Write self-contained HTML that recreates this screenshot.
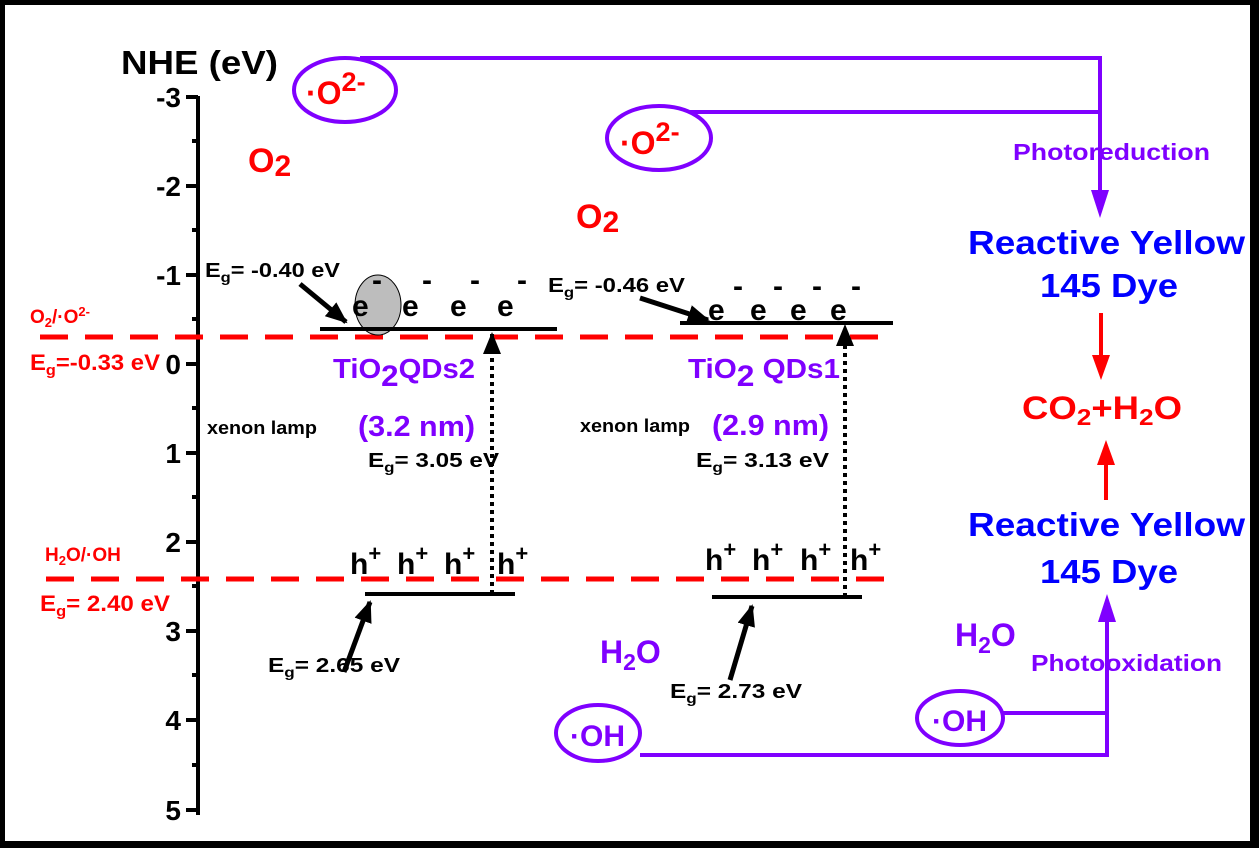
<!DOCTYPE html>
<html><head><meta charset="utf-8"><style>
html,body{margin:0;padding:0;background:#fff}
svg{display:block}
text{font-family:"Liberation Sans",Arial,sans-serif;font-weight:bold}
.p{fill:#7f00ff}.r{fill:#ff0000}.b{fill:#0000ff}.k{fill:#000}
</style></head><body>
<svg width="1259" height="848" viewBox="0 0 1259 848" xmlns="http://www.w3.org/2000/svg">
<defs>
<marker id="akb" markerWidth="22" markerHeight="18" refX="20" refY="9" orient="auto" markerUnits="userSpaceOnUse"><path d="M0,0 L22,9 L0,18z" fill="#000"/></marker>
</defs>
<rect x="2.5" y="2.5" width="1250" height="841" fill="#fff" stroke="#000" stroke-width="5"/>
<rect x="1250" y="0" width="9" height="848" fill="#000"/>
<rect x="0" y="842" width="1259" height="6" fill="#000"/>
<line x1="198" y1="96" x2="198" y2="815" stroke="#000" stroke-width="4"/>
<g stroke="#000" stroke-width="4">
<line x1="186" y1="97" x2="198" y2="97"/><line x1="186" y1="186" x2="198" y2="186"/><line x1="186" y1="275" x2="198" y2="275"/><line x1="186" y1="364" x2="198" y2="364"/><line x1="186" y1="453" x2="198" y2="453"/><line x1="186" y1="542" x2="198" y2="542"/><line x1="186" y1="631" x2="198" y2="631"/><line x1="186" y1="720" x2="198" y2="720"/><line x1="186" y1="810" x2="198" y2="810"/>
<line x1="192" y1="141" x2="198" y2="141"/><line x1="192" y1="230" x2="198" y2="230"/><line x1="192" y1="319" x2="198" y2="319"/><line x1="192" y1="408" x2="198" y2="408"/><line x1="192" y1="497" x2="198" y2="497"/><line x1="192" y1="586" x2="198" y2="586"/><line x1="192" y1="675" x2="198" y2="675"/><line x1="192" y1="765" x2="198" y2="765"/>
</g>
<g class="k" font-size="28" text-anchor="end">
<text x="181" y="107">-3</text><text x="181" y="196">-2</text><text x="181" y="285">-1</text><text x="181" y="374">0</text><text x="181" y="463">1</text><text x="181" y="552">2</text><text x="181" y="641">3</text><text x="181" y="730">4</text><text x="181" y="820">5</text>
</g>
<text x="121" y="74" font-size="33" class="k" textLength="157" lengthAdjust="spacingAndGlyphs">NHE (eV)</text>
<line x1="40" y1="337" x2="885" y2="337" stroke="#f00" stroke-width="5" stroke-dasharray="28,17"/>
<line x1="46" y1="579" x2="885" y2="579" stroke="#f00" stroke-width="5" stroke-dasharray="28,17"/>
<text x="30" y="323" font-size="19" class="r">O<tspan font-size="13" dy="4">2</tspan><tspan dy="-4">/·O</tspan><tspan font-size="13" dy="-7">2-</tspan></text>
<text x="30" y="370" font-size="22" class="r" textLength="130" lengthAdjust="spacingAndGlyphs">E<tspan font-size="15" dy="5">g</tspan><tspan dy="-5">=-0.33 eV</tspan></text>
<text x="45" y="561" font-size="19" class="r">H<tspan font-size="13" dy="4">2</tspan><tspan dy="-4">O/·OH</tspan></text>
<text x="40" y="611" font-size="22" class="r" textLength="130" lengthAdjust="spacingAndGlyphs">E<tspan font-size="15" dy="5">g</tspan><tspan dy="-5">= 2.40 eV</tspan></text>
<ellipse cx="378" cy="305" rx="23" ry="30" fill="#bdbdbd" stroke="#000" stroke-width="1"/>
<line x1="320" y1="329" x2="557" y2="329" stroke="#000" stroke-width="4"/>
<line x1="680" y1="323" x2="893" y2="323" stroke="#000" stroke-width="4"/>
<line x1="365" y1="594" x2="515" y2="594" stroke="#000" stroke-width="4"/>
<line x1="712" y1="597" x2="862" y2="597" stroke="#000" stroke-width="4"/>
<line x1="492" y1="594" x2="492" y2="334" stroke="#000" stroke-width="4" stroke-dasharray="4,4" marker-end="url(#akb)"/>
<line x1="845" y1="597" x2="845" y2="326" stroke="#000" stroke-width="4" stroke-dasharray="4,4" marker-end="url(#akb)"/>
<g class="k" font-size="30">
<text x="352" y="316">e</text><text x="402" y="316">e</text><text x="450" y="316">e</text><text x="497" y="316">e</text>
<text x="372" y="290">-</text><text x="422" y="290">-</text><text x="470" y="290">-</text><text x="517" y="290">-</text>
<text x="708" y="320">e</text><text x="750" y="320">e</text><text x="790" y="320">e</text><text x="830" y="320">e</text>
<text x="733" y="296">-</text><text x="773" y="296">-</text><text x="812" y="296">-</text><text x="851" y="296">-</text>
</g>
<g class="k" font-size="30">
<text x="350" y="574">h<tspan font-size="22" dy="-13">+</tspan></text>
<text x="397" y="574">h<tspan font-size="22" dy="-13">+</tspan></text>
<text x="444" y="574">h<tspan font-size="22" dy="-13">+</tspan></text>
<text x="497" y="574">h<tspan font-size="22" dy="-13">+</tspan></text>
<text x="705" y="570">h<tspan font-size="22" dy="-13">+</tspan></text>
<text x="752" y="570">h<tspan font-size="22" dy="-13">+</tspan></text>
<text x="800" y="570">h<tspan font-size="22" dy="-13">+</tspan></text>
<text x="850" y="570">h<tspan font-size="22" dy="-13">+</tspan></text>
</g>
<g class="k" font-size="20">
<text x="205" y="277" textLength="135" lengthAdjust="spacingAndGlyphs">E<tspan font-size="14" dy="5">g</tspan><tspan dy="-5">= -0.40 eV</tspan></text>
<text x="548" y="292" textLength="137" lengthAdjust="spacingAndGlyphs">E<tspan font-size="14" dy="5">g</tspan><tspan dy="-5">= -0.46 eV</tspan></text>
<text x="368" y="467" textLength="131" lengthAdjust="spacingAndGlyphs">E<tspan font-size="14" dy="5">g</tspan><tspan dy="-5">= 3.05 eV</tspan></text>
<text x="696" y="467" textLength="133" lengthAdjust="spacingAndGlyphs">E<tspan font-size="14" dy="5">g</tspan><tspan dy="-5">= 3.13 eV</tspan></text>
<text x="268" y="672" textLength="132" lengthAdjust="spacingAndGlyphs">E<tspan font-size="14" dy="5">g</tspan><tspan dy="-5">= 2.65 eV</tspan></text>
<text x="670" y="698" textLength="132" lengthAdjust="spacingAndGlyphs">E<tspan font-size="14" dy="5">g</tspan><tspan dy="-5">= 2.73 eV</tspan></text>
</g>
<g class="k" font-size="18">
<text x="207" y="434" textLength="110" lengthAdjust="spacingAndGlyphs">xenon lamp</text><text x="580" y="432" textLength="110" lengthAdjust="spacingAndGlyphs">xenon lamp</text>
</g>
<g stroke="#000" stroke-width="5">
<line x1="300" y1="284" x2="346" y2="322" marker-end="url(#akb)"/>
<line x1="640" y1="298" x2="708" y2="320" marker-end="url(#akb)"/>
<line x1="344" y1="672" x2="370" y2="602" marker-end="url(#akb)"/>
<line x1="730" y1="680" x2="752" y2="606" marker-end="url(#akb)"/>
</g>
<text x="333" y="378" font-size="28" class="p" textLength="142" lengthAdjust="spacingAndGlyphs">TiO<tspan font-size="30" dy="8">2</tspan><tspan dy="-8">QDs2</tspan></text>
<text x="688" y="378" font-size="28" class="p" textLength="152" lengthAdjust="spacingAndGlyphs">TiO<tspan font-size="30" dy="8">2</tspan><tspan dy="-8"> QDs1</tspan></text>
<text x="358" y="436" font-size="29" class="p" textLength="117" lengthAdjust="spacingAndGlyphs">(3.2 nm)</text>
<text x="712" y="435" font-size="29" class="p" textLength="117" lengthAdjust="spacingAndGlyphs">(2.9 nm)</text>
<text x="248" y="172" font-size="34" class="r">O<tspan font-size="30" dy="4">2</tspan></text>
<text x="576" y="228" font-size="34" class="r">O<tspan font-size="30" dy="4">2</tspan></text>
<g fill="none" stroke="#7f00ff" stroke-width="4">
<ellipse cx="345" cy="90" rx="51" ry="32"/>
<ellipse cx="659" cy="138" rx="52" ry="32"/>
<polyline points="360,58 1100,58 1100,195"/>
<line x1="690" y1="112" x2="1100" y2="112"/>
<ellipse cx="598" cy="733" rx="42" ry="28"/>
<ellipse cx="960" cy="718" rx="43" ry="27"/>
<polyline points="640,755 1107,755 1107,615"/>
<line x1="1003" y1="713" x2="1107" y2="713"/>
</g>
<path d="M1091,190 L1109,190 L1100,218z" fill="#7f00ff"/>
<path d="M1098,622 L1116,622 L1107,594z" fill="#7f00ff"/>
<text x="306" y="104" font-size="32" class="r">·O<tspan font-size="27" dy="-13">2-</tspan></text>
<text x="620" y="154" font-size="32" class="r">·O<tspan font-size="27" dy="-13">2-</tspan></text>
<text x="570" y="746" font-size="30" class="p">·OH</text>
<text x="932" y="731" font-size="30" class="p">·OH</text>
<text x="600" y="663" font-size="32" class="p">H<tspan font-size="23" dy="7">2</tspan><tspan dy="-7">O</tspan></text>
<text x="955" y="646" font-size="32" class="p">H<tspan font-size="23" dy="7">2</tspan><tspan dy="-7">O</tspan></text>
<text x="1013" y="160" font-size="23" class="p" textLength="197" lengthAdjust="spacingAndGlyphs">Photoreduction</text>
<text x="1031" y="671" font-size="23" class="p" textLength="191" lengthAdjust="spacingAndGlyphs">Photooxidation</text>
<text x="968" y="254" font-size="33" class="b" textLength="277" lengthAdjust="spacingAndGlyphs">Reactive Yellow</text>
<text x="1040" y="297" font-size="33" class="b" textLength="138" lengthAdjust="spacingAndGlyphs">145 Dye</text>
<text x="968" y="536" font-size="33" class="b" textLength="277" lengthAdjust="spacingAndGlyphs">Reactive Yellow</text>
<text x="1040" y="583" font-size="33" class="b" textLength="138" lengthAdjust="spacingAndGlyphs">145 Dye</text>
<text x="1022" y="419" font-size="32" class="r" textLength="160" lengthAdjust="spacingAndGlyphs">CO<tspan font-size="23" dy="6">2</tspan><tspan dy="-6">+H</tspan><tspan font-size="23" dy="6">2</tspan><tspan dy="-6">O</tspan></text>
<line x1="1101" y1="313" x2="1101" y2="360" stroke="#f00" stroke-width="4"/>
<path d="M1092,355 L1110,355 L1101,380z" fill="#f00"/>
<line x1="1106" y1="500" x2="1106" y2="460" stroke="#f00" stroke-width="4"/>
<path d="M1097,465 L1115,465 L1106,440z" fill="#f00"/>
</svg>
</body></html>
